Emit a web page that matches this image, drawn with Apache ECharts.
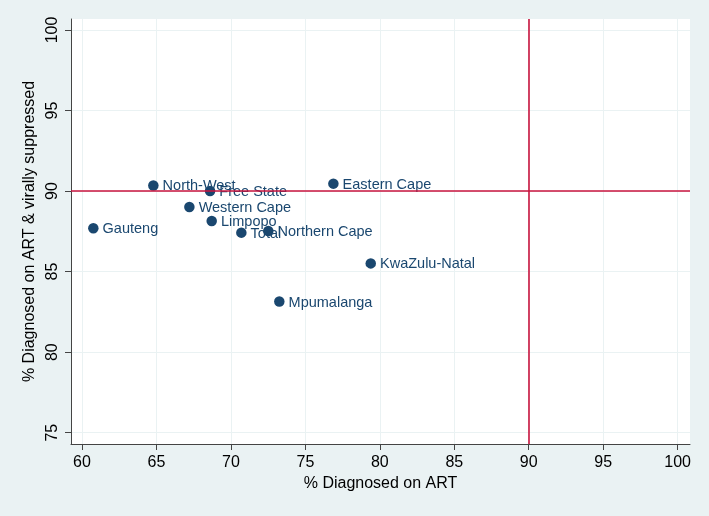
<!DOCTYPE html>
<html>
<head>
<meta charset="utf-8">
<script src="https://cdn.jsdelivr.net/npm/echarts@6/dist/echarts.min.js"></script>
<style>html,body{margin:0;padding:0;background:#EAF2F3;}#c{width:709px;height:516px;}</style>
</head>
<body>
<div id="c"></div>
<script>
const provinces = ['North-West','Free State','Eastern Cape','Western Cape','Gauteng','Limpopo','Total','Northern Cape','KwaZulu-Natal','Mpumalanga'];
const diagnosedOnART = [64.79, 68.60, 76.88, 67.21, 60.76, 68.71, 70.70, 72.51, 79.39, 73.25];
const virallySuppressed = [90.35, 90.00, 90.46, 89.01, 87.69, 88.14, 87.42, 87.52, 85.51, 83.14];
const xTicks = [60, 65, 70, 75, 80, 85, 90, 95, 100];
const yTicks = [75, 80, 85, 90, 95, 100];
const targetX = 90;
const targetY = 90;

const FONT = '"Liberation Sans", Arial, sans-serif';
const navy = '#1A476F';
const red = '#C8133E';

const chart = echarts.init(document.getElementById('c'), null, {renderer: 'canvas'});
const points = provinces.map((p, i) => ({name: p, value: [diagnosedOnART[i], virallySuppressed[i]]}));

chart.setOption({
  backgroundColor: '#EAF2F3',
  animation: false,
  grid: {left: 71, right: 19, top: 19, bottom: 72, show: true, backgroundColor: '#FFFFFF', borderWidth: 0},
  xAxis: {
    type: 'value', min: 59.26, max: 100.83,
    name: '% Diagnosed on ART', nameLocation: 'middle', nameGap: 30,
    nameTextStyle: {color: '#000', fontSize: 16, fontFamily: FONT},
    axisLine: {show: true, onZero: false, lineStyle: {color: '#444', width: 1}},
    axisTick: {show: true, length: 6, customValues: xTicks, lineStyle: {color: '#444'}},
    axisLabel: {customValues: xTicks, color: '#000', fontSize: 16, fontFamily: FONT, margin: 11},
    splitLine: {show: true, lineStyle: {color: '#EAF2F3', width: 1}}
  },
  yAxis: {
    type: 'value', min: 74.30, max: 100.68,
    name: '% Diagnosed on ART & virally suppressed', nameLocation: 'middle', nameGap: 27,
    nameTextStyle: {color: '#000', fontSize: 16, fontFamily: FONT},
    axisLine: {show: true, onZero: false, lineStyle: {color: '#444', width: 1}},
    axisTick: {show: true, length: 6, customValues: yTicks, lineStyle: {color: '#444'}},
    axisLabel: {customValues: yTicks, rotate: 90, color: '#000', fontSize: 16, fontFamily: FONT, margin: 10},
    splitLine: {show: true, lineStyle: {color: '#EAF2F3', width: 1}}
  },
  series: [
    {
      type: 'scatter', data: [], silent: true, z: 2,
      markLine: {
        silent: true, symbol: 'none', label: {show: false},
        lineStyle: {color: red, width: 1.6, type: 'solid'},
        data: [{xAxis: targetX}, {yAxis: targetY}]
      }
    },
    {
      type: 'scatter', z: 3,
      symbol: 'circle', symbolSize: 10.5,
      itemStyle: {color: navy, opacity: 1},
      data: points,
      label: {show: true, position: 'right', distance: 4, offset: [0, 1], formatter: '{b}', color: navy, opacity: 1, fontSize: 14.5, fontFamily: FONT}
    }
  ]
});
</script>
</body>
</html>
